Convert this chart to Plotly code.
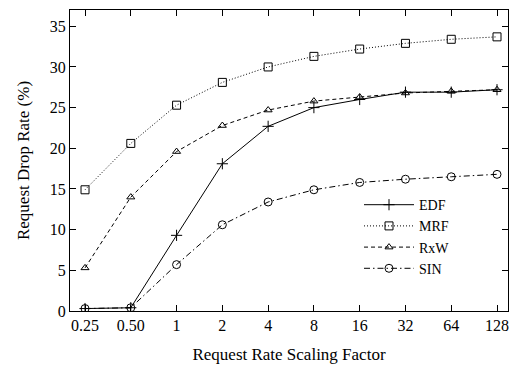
import plotly.graph_objects as go

categories = ["0.25", "0.50", "1", "2", "4", "8", "16", "32", "64", "128"]
edf = [0.3, 0.4, 9.3, 18.1, 22.7, 25.0, 26.0, 26.9, 26.9, 27.2]
mrf = [14.9, 20.6, 25.3, 28.1, 30.0, 31.3, 32.2, 32.9, 33.4, 33.7]
rxw = [5.3, 14.0, 19.6, 22.8, 24.7, 25.8, 26.3, 26.8, 27.0, 27.2]
sin = [0.3, 0.4, 5.7, 10.6, 13.4, 14.9, 15.8, 16.2, 16.5, 16.8]
y_ticks = [0, 5, 10, 15, 20, 25, 30, 35]

xs = list(range(len(categories)))
FONT = "Liberation Serif, Times New Roman, Times, serif"

fig = go.Figure()
series = [
    ("EDF", edf, "solid", "cross-thin-open", 8),
    ("MRF", mrf, "1px,2px", "square-open", 8),
    ("RxW", rxw, "4px,3px", "triangle-up-open", 7),
    ("SIN", sin, "6px,3px,1.5px,3px", "circle-open", 8),
]
for name, vals, dash, sym, size in series:
    fig.add_trace(go.Scatter(
        x=xs, y=vals, name=name, mode="lines+markers",
        line=dict(color="black", width=1, dash=dash),
        marker=dict(symbol=sym, size=size, color="black",
                    line=dict(color="black", width=1)),
    ))

axis_common = dict(
    showline=True, linecolor="black", linewidth=1, mirror="allticks",
    ticks="inside", ticklen=6, tickcolor="black", tickwidth=1,
    showgrid=False, zeroline=False, automargin=False,
    tickfont=dict(family=FONT, size=16, color="black"),
)

fig.update_layout(
    width=514, height=369,
    margin=dict(l=70, r=6, t=10, b=58),
    plot_bgcolor="white", paper_bgcolor="white",
    font=dict(family=FONT, size=16, color="black"),
    xaxis=dict(
        range=[-0.328, 9.24], tickvals=xs, ticktext=categories,
        title=dict(text="Request Rate Scaling Factor", standoff=14,
                   font=dict(family=FONT, size=17)),
        **axis_common,
    ),
    yaxis=dict(
        range=[0, 37], tickvals=y_ticks,
        title=dict(text="Request Drop Rate (%)", standoff=15,
                   font=dict(family=FONT, size=17)),
        **axis_common,
    ),
    legend=dict(
        x=0.879, y=0.405, xanchor="right", yanchor="top",
        bgcolor="rgba(0,0,0,0)", borderwidth=0,
        font=dict(family=FONT, size=14, color="black"),
        itemwidth=50, tracegroupgap=0,
    ),
)

fig.write_html("out.html", config={"displayModeBar": False},
               post_script="document.body.style.margin='0';")
